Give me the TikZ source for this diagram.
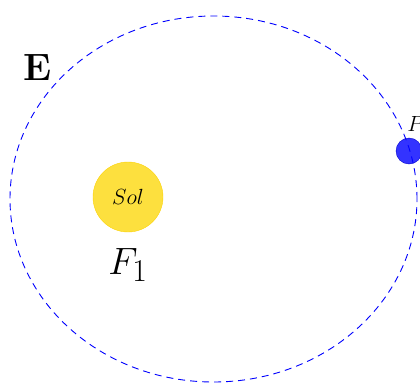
\documentclass[tikz,border=0pt]{standalone}
\begin{document}
\begin{tikzpicture}[x=1pt,y=-1pt,
  orbit/.style={draw=blue, dash pattern=on 7pt off 5pt, line width=0.9pt},
  sun/.style={circle, fill=yellow!75!orange!90!white, fill opacity=0.85, draw=yellow!70!orange, minimum size=70pt, inner sep=0pt, text opacity=1},
  planet/.style={circle, fill=blue, fill opacity=0.8, draw=blue!80!black, minimum size=26pt, inner sep=0pt},
  bigtext/.style={font=\Huge, scale=1.53},
  midtext/.style={font=\LARGE, scale=1.27}]
\useasboundingbox (0,0) rectangle (420,383);
\draw[orbit] (213.5,199) ellipse [x radius=203.5pt, y radius=183pt];
\node[sun] (sol) at (128,197) {};
\node[midtext] (soltext) at (sol.center) {$Sol$};
\node[bigtext] (f1) at (128,265) {$F_1$};
\node[bigtext] (e) at (38,68) {\textbf{E}};
\node[planet] (p) at (409,151) {};
\node[midtext, anchor=south west, inner sep=0pt] (pl) at (407,132) {$P$};
\end{tikzpicture}
\end{document}
